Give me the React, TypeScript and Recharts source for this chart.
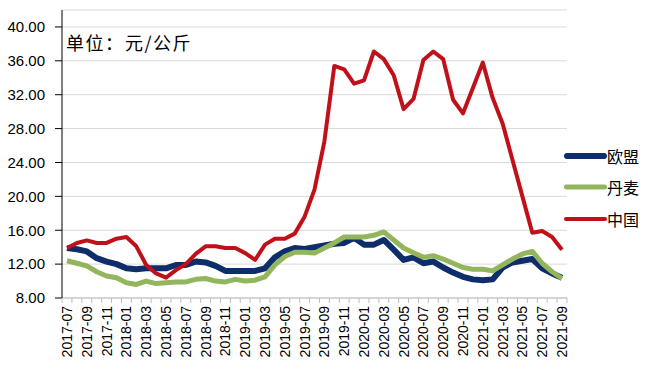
import { LineChart, Line, XAxis, YAxis, CartesianGrid } from 'recharts';

const months = [
  '2017-07', '2017-08', '2017-09', '2017-10', '2017-11', '2017-12',
  '2018-01', '2018-02', '2018-03', '2018-04', '2018-05', '2018-06',
  '2018-07', '2018-08', '2018-09', '2018-10', '2018-11', '2018-12',
  '2019-01', '2019-02', '2019-03', '2019-04', '2019-05', '2019-06',
  '2019-07', '2019-08', '2019-09', '2019-10', '2019-11', '2019-12',
  '2020-01', '2020-02', '2020-03', '2020-04', '2020-05', '2020-06',
  '2020-07', '2020-08', '2020-09', '2020-10', '2020-11', '2020-12',
  '2021-01', '2021-02', '2021-03', '2021-04', '2021-05', '2021-06',
  '2021-07', '2021-08', '2021-09',
];

const eu = [
  13.9, 13.75, 13.5, 12.7, 12.3, 12.0, 11.5, 11.4, 11.5, 11.5, 11.5, 11.9,
  11.9, 12.3, 12.2, 11.8, 11.2, 11.2, 11.2, 11.2, 11.5, 12.8, 13.5, 13.9,
  13.8, 14.0, 14.2, 14.4, 14.5, 15.1, 14.3, 14.3, 14.85, 13.7, 12.5, 12.8,
  12.1, 12.3, 11.6, 11.0, 10.5, 10.2, 10.1, 10.2, 11.6, 12.2, 12.4, 12.6,
  11.5, 10.9, 10.4,
];

const denmark = [
  12.4, 12.1, 11.8, 11.1, 10.6, 10.4, 9.8, 9.6, 10.0, 9.7, 9.8, 9.9,
  9.9, 10.2, 10.3, 10.0, 9.9, 10.2, 10.0, 10.1, 10.5, 11.9, 12.9, 13.4,
  13.4, 13.3, 13.9, 14.5, 15.2, 15.2, 15.2, 15.4, 15.8, 14.85, 13.9, 13.35,
  12.8, 13.0, 12.6, 12.1, 11.6, 11.4, 11.4, 11.2, 11.9, 12.6, 13.2, 13.5,
  12.1, 11.1, 10.3,
];

const china = [
  13.9, 14.5, 14.8, 14.5, 14.5, 15.0, 15.2, 14.1, 11.9, 10.9, 10.4, 11.3,
  12.0, 13.2, 14.1, 14.1, 13.9, 13.9, 13.3, 12.5, 14.3, 15.0, 15.0, 15.6,
  17.6, 20.8, 26.5, 35.4, 35.0, 33.3, 33.7, 37.1, 36.2, 34.3, 30.3, 31.5,
  36.1, 37.1, 36.2, 31.4, 29.8, 32.8, 35.8, 31.6, 28.6, 24.3, 20.0, 15.7,
  15.9, 15.2, 13.7,
];

const yTicks = [8, 12, 16, 20, 24, 28, 32, 36, 40];

const series = [
  { key: 'eu', name: '欧盟', color: '#0e2d6b', width: 6 },
  { key: 'denmark', name: '丹麦', color: '#93b55b', width: 5 },
  { key: 'china', name: '中国', color: '#c0101a', width: 4 },
];

const data = months.map((month, i) => ({
  month,
  eu: eu[i],
  denmark: denmark[i],
  china: china[i],
}));

const FONT = '"Liberation Sans", "Noto Sans CJK SC", sans-serif';
const CJK = '"Noto Sans CJK SC", sans-serif';

const MonthTick = (props: any) => {
  const { x, y, index, payload } = props;
  const half = 4.95;
  const last = index === months.length - 1;
  return (
    <g>
      <line x1={x - half} y1={y - 5} x2={x - half} y2={y} stroke="#bfbfbf" />
      {last && <line x1={x + half} y1={y - 5} x2={x + half} y2={y} stroke="#bfbfbf" />}
      {index % 2 === 0 && (
        <text
          x={x}
          y={y + 3}
          transform={`rotate(-90, ${x}, ${y + 3})`}
          textAnchor="end"
          dy="0.36em"
          fontSize={14}
          fontFamily={FONT}
          fill="#000"
        >
          {payload.value}
        </text>
      )}
    </g>
  );
};

export default function App() {
  const titleStyle = {
    position: 'absolute' as const,
    top: 31,
    fontSize: 18,
    fontFamily: CJK,
    color: '#000',
    lineHeight: '22px',
    letterSpacing: 1.5,
    whiteSpace: 'nowrap' as const,
  };
  return (
    <div style={{ position: 'absolute', left: 0, top: 0, width: 652, height: 378, background: '#fff' }}>
      <LineChart width={652} height={378} data={data} margin={{ top: 10, right: 85, bottom: 10, left: 8 }}>
        <CartesianGrid vertical={false} stroke="#d9d9d9" />
        <XAxis
          dataKey="month"
          interval={0}
          height={70}
          tickSize={0}
          tickMargin={5}
          tickLine={false}
          axisLine={{ stroke: '#bfbfbf' }}
          padding={{ left: 5, right: 5 }}
          tick={<MonthTick />}
        />
        <YAxis
          width={54}
          domain={[8, 42]}
          ticks={yTicks}
          tickFormatter={(v: number) => v.toFixed(2)}
          tickSize={7}
          tickMargin={10}
          axisLine={{ stroke: '#000' }}
          tickLine={{ stroke: '#000' }}
          tick={{ fill: '#000', fontSize: 15, fontFamily: FONT }}
        />
        {series.map((s) => (
          <Line
            key={s.key}
            dataKey={s.key}
            name={s.name}
            stroke={s.color}
            strokeWidth={s.width}
            dot={false}
            activeDot={false}
            isAnimationActive={false}
            strokeLinejoin="round"
          />
        ))}
      </LineChart>

      <div style={{ ...titleStyle, left: 66 }}>单位：</div>
      <div style={{ ...titleStyle, left: 125 }}>元/公斤</div>

      <div style={{ position: 'absolute', left: 564, top: 140 }}>
        {series.map((s) => (
          <div key={s.key} style={{ display: 'flex', alignItems: 'center', height: 31.5 }}>
            <svg width={43} height={10}>
              <line x1={s.width / 2} y1={5} x2={43 - s.width / 2} y2={5} stroke={s.color} strokeWidth={s.width} strokeLinecap="round" />
            </svg>
            <span style={{ fontSize: 16, fontFamily: CJK, color: '#000', lineHeight: '20px' }}>{s.name}</span>
          </div>
        ))}
      </div>
    </div>
  );
}
